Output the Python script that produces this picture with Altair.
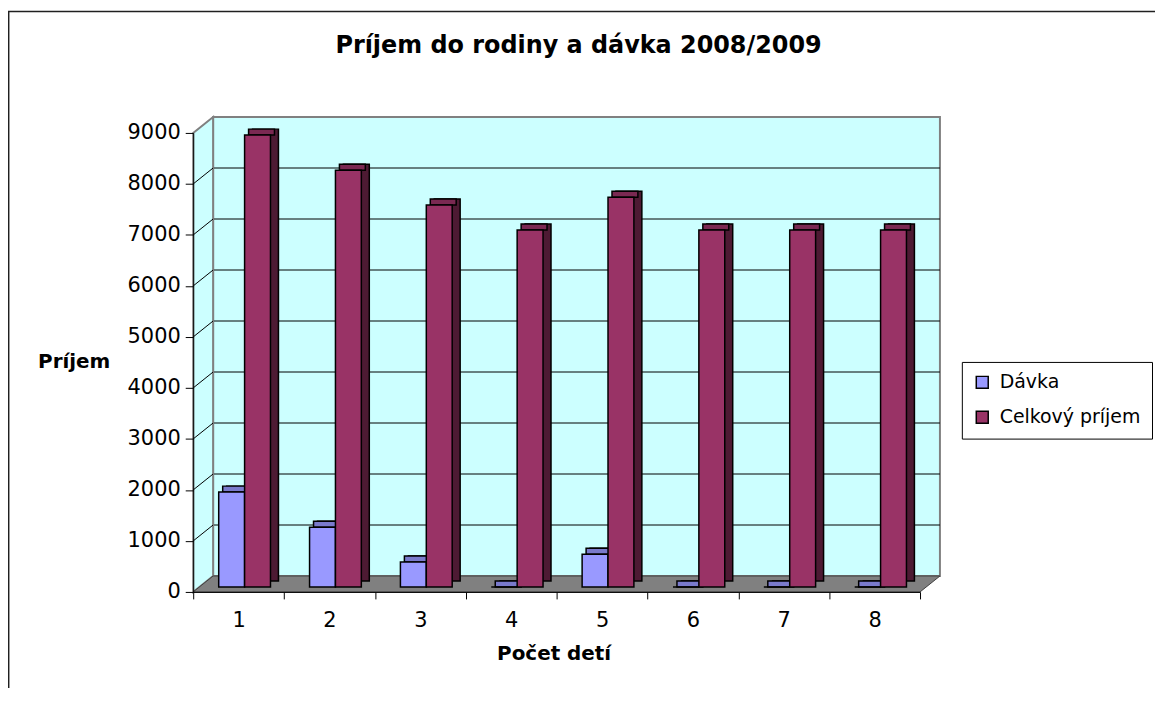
import altair as alt
import pandas as pd

# ---------------- data ----------------
POCET = ["1", "2", "3", "4", "5", "6", "7", "8"]
DAVKA = [1860, 1170, 490, 0, 640, 0, 0, 0]
CELKOVY = [8860, 8170, 7490, 7000, 7640, 7000, 7000, 7000]
SERIES = ["Dávka", "Celkový príjem"]
Y_TICKS = [0, 1000, 2000, 3000, 4000, 5000, 6000, 7000, 8000, 9000]
GRID_VALUES = [1000, 2000, 3000, 4000, 5000, 6000, 7000, 8000]

TITLE = "Príjem do rodiny a dávka  2008/2009"
X_TITLE = "Počet detí"
Y_TITLE = "Príjem"

# ---------------- style ----------------
FONT = "DejaVu Sans"
W, H = 730, 461
YMAX = 9000
DX, DY = 20, 16            # 3-D depth of the frame in pixels
DV = DY * YMAX / H         # same depth in value units
BAR_W = 26
BY = -5                    # bars stand a little behind the front plane
FRONT = {"Dávka": "#9999FF", "Celkový príjem": "#993366"}
TOP = {"Dávka": "#7A7ACC", "Celkový príjem": "#7A2952"}
SIDE = {"Dávka": "#4D4D80", "Celkový príjem": "#4D1A33"}
SHIFT = {"Dávka": -7, "Celkový príjem": 19}

df = pd.DataFrame({
    "pocet": POCET * 2,
    "series": [SERIES[0]] * len(POCET) + [SERIES[1]] * len(POCET),
    "value": DAVKA + CELKOVY,
})

yscale = alt.Scale(domain=[0, YMAX], nice=False, zero=True)
pxscale = alt.Scale(domain=[0, W], nice=False, zero=False)
xband = alt.Scale(domain=POCET, paddingInner=0, paddingOuter=0)

yaxis = alt.Axis(
    values=Y_TICKS, format="d", title=Y_TITLE, titleAngle=0, titleX=-120,
    titleY=236, titleAlign="center", titleBaseline="alphabetic",
    titleFont=FONT, titleFontSize=20, titleFontWeight="bold",
    titleColor="black", labelFont=FONT, labelFontSize=21, labelColor="black",
    labelPadding=5, tickSize=8, tickColor="black", domainColor="black",
    grid=False, zindex=1,
)


def Y(field):
    return alt.Y(field, scale=yscale, axis=yaxis)


def PX(field):
    return alt.X(field, scale=pxscale, axis=None)


# ---------------- frame ----------------
back_df = pd.DataFrame({"px": [DX, W + DX], "lo": [DV, DV], "hi": [YMAX + DV, YMAX + DV]})
back_wall = alt.Chart(back_df).mark_area(
    fill="#CCFFFF", stroke="#808080", strokeWidth=2
).encode(x=PX("px:Q"), y=Y("lo:Q"), y2="hi:Q")

grid_df = pd.DataFrame({"v": GRID_VALUES})
back_grid = alt.Chart(grid_df).transform_calculate(
    vb=f"datum.v + {DV}", a=f"{DX}", b=f"{W + DX}"
).mark_rule(color="black", strokeWidth=1).encode(
    x=PX("a:Q"), x2="b:Q", y=Y("vb:Q")
)

left_df = pd.DataFrame({"px": [0, DX], "lo": [0, DV], "hi": [YMAX, YMAX + DV]})
left_wall = alt.Chart(left_df).mark_area(
    fill="#CCFFFF", stroke="#808080", strokeWidth=2
).encode(x=PX("px:Q"), y=Y("lo:Q"), y2="hi:Q")

left_grid = alt.Chart(grid_df).transform_calculate(
    vb=f"datum.v + {DV}", a="0", b=f"{DX}"
).mark_rule(color="black", strokeWidth=1).encode(
    x=PX("a:Q"), x2="b:Q", y=Y("v:Q"), y2="vb:Q"
)

floor_df = pd.DataFrame({"v": [0, DV], "a": [0, DX], "b": [W, W + DX]})
floor = alt.Chart(floor_df).mark_area(
    orient="horizontal", fill="#808080", stroke="#404040", strokeWidth=1
).encode(y=Y("v:Q"), x=PX("a:Q"), x2="b:Q")

# ---------------- bars ----------------
color = alt.Color(
    "series:N",
    scale=alt.Scale(domain=SERIES, range=[FRONT[s] for s in SERIES]),
    legend=alt.Legend(
        title=None, orient="none", legendX=772, legendY=230, padding=11,
        strokeColor="black", fillColor="white", labelFont=FONT,
        labelFontSize=19, labelColor="black", symbolType="square",
        symbolSize=144, symbolStrokeColor="black", symbolStrokeWidth=1.5,
        rowPadding=15, labelOffset=8,
    ),
)

xaxis = alt.Axis(
    title=X_TITLE, labelAngle=0, tickBand="extent", tickSize=7,
    tickColor="black", domainColor="black", labelFont=FONT, labelFontSize=21,
    labelColor="black", labelPadding=11, titleFont=FONT, titleFontSize=20,
    titleFontWeight="bold", titleColor="black", titleX=362, titleY=68,
    titleBaseline="alphabetic", zindex=1,
)

bar_layers = []
for s in SERIES:
    base = alt.Chart(df).transform_filter(alt.datum.series == s)
    ox = SHIFT[s]
    side = base.mark_bar(
        width=BAR_W, xOffset=ox + 8, yOffset=BY - 6, y2Offset=BY - 6,
        fill=SIDE[s], stroke="black", strokeWidth=1.5,
    ).encode(x=alt.X("pocet:N", scale=xband, axis=None), y=Y("value:Q"))
    top = base.mark_bar(
        width=BAR_W, xOffset=ox + 4, yOffset=BY - 6, y2Offset=BY,
        fill=TOP[s], stroke="black", strokeWidth=1.5,
    ).encode(x=alt.X("pocet:N", scale=xband, axis=None), y=Y("value:Q"), y2="value:Q")
    front = base.mark_bar(
        width=BAR_W, xOffset=ox, yOffset=BY, y2Offset=BY,
        stroke="black", strokeWidth=1.5, opacity=1,
    ).encode(
        x=alt.X("pocet:N", scale=xband, axis=xaxis if s == SERIES[-1] else None),
        y=Y("value:Q"), color=color,
    )
    bar_layers += [side, top, front]

# ---------------- texts & border ----------------
title = alt.Chart(pd.DataFrame({"t": [TITLE]})).mark_text(
    font=FONT, fontSize=24, fontWeight="bold", align="center",
    baseline="alphabetic", color="black",
).encode(text="t:N", x=alt.value(387), y=alt.value(-80))

one = pd.DataFrame({"k": [0]})
border_top = alt.Chart(one).mark_rule(color="#202020", strokeWidth=1.5).encode(
    x=alt.value(-186), x2=alt.value(980), y=alt.value(-122)
)
border_left = alt.Chart(one).mark_rule(color="#202020", strokeWidth=1.5).encode(
    x=alt.value(-185.3), y=alt.value(-122), y2=alt.value(600)
)

chart = alt.layer(
    border_top, border_left, back_wall, back_grid, left_wall, left_grid, floor,
    *bar_layers, title,
).resolve_scale(x="independent").properties(
    width=W, height=H,
    autosize=alt.AutoSizeParams(type="none"),
    padding={"left": 186, "top": 124, "right": 236, "bottom": 95},
    background="white",
).configure_view(stroke=None)

chart.save("out.html", embed_options={"renderer": "svg", "actions": False})
